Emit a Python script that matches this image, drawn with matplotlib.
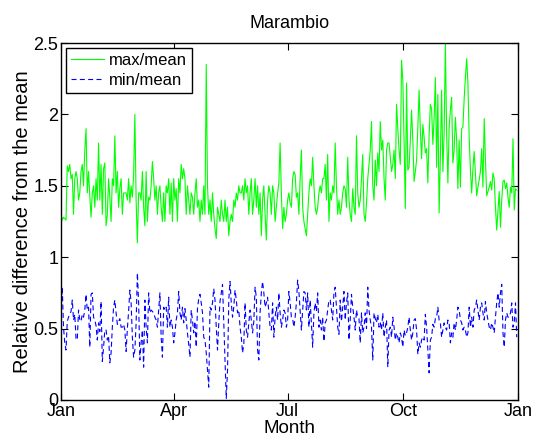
import numpy as np
import matplotlib
matplotlib.use("Agg")
import matplotlib.pyplot as plt

plt.rcParams['font.family'] = ['Liberation Sans', 'DejaVu Sans']

title = "Marambio"
xlabel = "Month"
ylabel = "Relative difference from the mean"
month_ticks = [0, 90, 181, 273, 365]
month_labels = ["Jan", "Apr", "Jul", "Oct", "Jan"]
y_ticks = [0, 0.5, 1, 1.5, 2, 2.5]
y_labels = ["0", "0.5", "1", "1.5", "2", "2.5"]

max_mean_q1 = [
    1.30, 1.26, 1.28, 1.27, 1.26, 1.64, 1.60, 1.65, 1.55, 1.58,
    1.30, 1.55, 1.60, 1.55, 1.40, 1.45, 1.60, 1.65, 1.50, 1.75,
    1.90, 1.45, 1.60, 1.43, 1.28, 1.45, 1.50, 1.35, 1.55, 1.40,
    1.80, 1.40, 1.65, 1.30, 1.62, 1.66, 1.22, 1.30, 1.55, 1.42,
    1.25, 1.55, 1.50, 1.85, 1.45, 1.60, 1.35, 1.48, 1.55, 1.30,
    1.45, 1.45, 1.45, 1.40, 1.55, 1.38, 1.50, 1.42, 1.58, 2.00,
    1.40, 1.10, 1.45, 1.45, 1.40, 1.60, 1.35, 1.22, 1.60, 1.25,
    1.42, 1.40, 1.50, 1.67, 1.55, 1.40, 1.50, 1.30, 1.45, 1.50,
    1.35, 1.25, 1.45, 1.25, 1.50, 1.45, 1.55, 1.30, 1.52, 1.25,
    1.55, 1.40, 1.48]
max_mean_q2 = [
    1.25, 1.55, 1.45, 1.65, 1.55, 1.62, 1.55, 1.30, 1.50, 1.40,
    1.30, 1.45, 1.42, 1.30, 1.45, 1.55, 1.35, 1.40, 1.25, 1.40,
    1.30, 1.50, 1.30, 2.35, 1.50, 1.30, 1.40, 1.25, 1.45, 1.30,
    1.20, 1.13, 1.35, 1.30, 1.25, 1.40, 1.30, 1.25, 1.40, 1.25,
    1.35, 1.15, 1.25, 1.30, 1.25, 1.40, 1.35, 1.45, 1.40, 1.50,
    1.45, 1.45, 1.50, 1.40, 1.55, 1.45, 1.50, 1.30, 1.45, 1.55,
    1.30, 1.40, 1.55, 1.35, 1.50, 1.30, 1.45, 1.15, 1.40, 1.50,
    1.30, 1.12, 1.40, 1.50, 1.45, 1.30, 1.50, 1.45, 1.25, 1.35,
    1.45, 1.52, 1.80, 1.45, 1.20, 1.35, 1.25, 1.30, 1.40, 1.45,
    1.38]
max_mean_q3 = [
    1.35, 1.55, 1.60, 1.58, 1.42, 1.45, 1.30, 1.55, 1.75, 1.35,
    1.25, 1.20, 1.15, 1.30, 1.45, 1.55, 1.50, 1.70, 1.50, 1.35,
    1.30, 1.35, 1.45, 1.50, 1.45, 1.55, 1.55, 1.65, 1.40, 1.72,
    1.25, 1.45, 1.40, 1.50, 1.45, 1.80, 1.50, 1.30, 1.40, 1.30,
    1.35, 1.45, 1.50, 1.48, 1.35, 1.70, 1.40, 1.30, 1.25, 1.48,
    1.35, 1.30, 1.85, 1.45, 1.35, 1.40, 1.55, 1.72, 1.30, 1.25,
    1.38, 1.55, 1.65, 1.75, 1.95, 1.50, 1.40, 1.68, 1.50, 1.73,
    1.60, 1.95, 1.75, 1.82, 1.55, 1.40, 1.75, 1.80, 1.80, 1.70,
    1.60, 1.65, 1.75, 1.55, 2.07, 1.90, 1.75, 1.65, 2.38, 2.24,
    1.82, 1.34]
max_mean_q4 = [
    2.22, 1.61, 1.63, 1.82, 2.03, 1.82, 1.53, 1.60, 1.68, 1.91,
    2.17, 1.89, 1.69, 1.93, 1.84, 1.73, 1.76, 1.52, 1.85, 2.07,
    2.04, 1.79, 1.97, 2.26, 1.63, 2.14, 1.31, 1.70, 2.17, 1.60,
    1.87, 2.50, 1.87, 1.52, 1.91, 2.03, 2.12, 1.66, 1.75, 1.98,
    1.82, 1.48, 1.82, 1.49, 1.90, 1.91, 2.11, 2.26, 2.39, 2.22,
    1.84, 1.61, 1.45, 1.62, 1.74, 1.59, 1.43, 1.49, 1.54, 1.60,
    1.76, 1.49, 1.97, 1.68, 1.43, 1.46, 1.49, 1.53, 1.47, 1.59,
    1.55, 1.35, 1.19, 1.32, 1.46, 1.21, 1.40, 1.53, 1.54, 1.48,
    1.52, 1.42, 1.35, 1.49, 1.45, 1.83, 1.33, 1.48, 1.47]

min_mean_q1 = [
    0.62, 0.79, 0.51, 0.40, 0.35, 0.55, 0.58, 0.60, 0.62, 0.70,
    0.56, 0.60, 0.43, 0.42, 0.63, 0.56, 0.55, 0.60, 0.58, 0.63,
    0.74, 0.63, 0.65, 0.37, 0.74, 0.75, 0.58, 0.56, 0.52, 0.42,
    0.54, 0.48, 0.69, 0.27, 0.37, 0.49, 0.49, 0.42, 0.45, 0.26,
    0.33, 0.51, 0.65, 0.70, 0.61, 0.53, 0.55, 0.57, 0.51, 0.51,
    0.53, 0.49, 0.34, 0.50, 0.62, 0.77, 0.68, 0.44, 0.30, 0.35,
    0.54, 0.89, 0.68, 0.28, 0.40, 0.49, 0.23, 0.70, 0.51, 0.40,
    0.75, 0.61, 0.63, 0.62, 0.61, 0.58, 0.56, 0.51, 0.63, 0.75,
    0.44, 0.30, 0.65, 0.63, 0.65, 0.51, 0.72, 0.51, 0.56, 0.51,
    0.40, 0.47, 0.56]
min_mean_q2 = [
    0.61, 0.76, 0.61, 0.56, 0.65, 0.54, 0.64, 0.56, 0.47, 0.39,
    0.30, 0.63, 0.56, 0.47, 0.55, 0.37, 0.64, 0.71, 0.74, 0.68,
    0.61, 0.44, 0.42, 0.33, 0.21, 0.09, 0.65, 0.63, 0.68, 0.78,
    0.70, 0.51, 0.35, 0.54, 0.69, 0.75, 0.81, 0.54, 0.28, 0.01,
    0.21, 0.70, 0.83, 0.68, 0.58, 0.65, 0.77, 0.70, 0.61, 0.63,
    0.51, 0.44, 0.33, 0.39, 0.68, 0.49, 0.44, 0.54, 0.63, 0.56,
    0.47, 0.55, 0.79, 0.72, 0.35, 0.28, 0.61, 0.75, 0.83, 0.75,
    0.65, 0.68, 0.72, 0.61, 0.51, 0.49, 0.68, 0.44, 0.58, 0.65,
    0.56, 0.75, 0.61, 0.51, 0.56, 0.63, 0.61, 0.51, 0.56, 0.76,
    0.68]
min_mean_q3 = [
    0.58, 0.57, 0.51, 0.58, 0.68, 0.84, 0.76, 0.63, 0.49, 0.63,
    0.76, 0.75, 0.63, 0.75, 0.51, 0.70, 0.54, 0.37, 0.61, 0.68,
    0.62, 0.75, 0.51, 0.56, 0.49, 0.58, 0.41, 0.54, 0.56, 0.63,
    0.70, 0.70, 0.63, 0.56, 0.75, 0.79, 0.65, 0.51, 0.46, 0.70,
    0.55, 0.65, 0.76, 0.56, 0.68, 0.75, 0.42, 0.56, 0.74, 0.65,
    0.58, 0.49, 0.63, 0.58, 0.57, 0.40, 0.61, 0.47, 0.51, 0.61,
    0.50, 0.79, 0.63, 0.56, 0.51, 0.28, 0.61, 0.57, 0.54, 0.60,
    0.51, 0.54, 0.49, 0.61, 0.44, 0.51, 0.56, 0.23, 0.49, 0.51,
    0.44, 0.58, 0.51, 0.42, 0.47, 0.44, 0.40, 0.47, 0.44, 0.37,
    0.49, 0.45]
min_mean_q4 = [
    0.47, 0.51, 0.58, 0.49, 0.42, 0.47, 0.56, 0.57, 0.49, 0.32,
    0.40, 0.37, 0.42, 0.44, 0.42, 0.60, 0.51, 0.35, 0.19, 0.42,
    0.44, 0.53, 0.51, 0.57, 0.58, 0.65, 0.56, 0.54, 0.44, 0.49,
    0.54, 0.51, 0.49, 0.56, 0.54, 0.40, 0.47, 0.44, 0.54, 0.49,
    0.56, 0.65, 0.63, 0.56, 0.54, 0.49, 0.51, 0.49, 0.44, 0.47,
    0.65, 0.51, 0.58, 0.51, 0.63, 0.65, 0.70, 0.63, 0.56, 0.65,
    0.68, 0.61, 0.56, 0.69, 0.61, 0.56, 0.51, 0.49, 0.54, 0.51,
    0.47, 0.58, 0.68, 0.75, 0.65, 0.75, 0.81, 0.47, 0.37, 0.56,
    0.61, 0.58, 0.58, 0.61, 0.68, 0.51, 0.54, 0.68, 0.44]

max_mean = np.array(max_mean_q1 + max_mean_q2 + max_mean_q3 + max_mean_q4)
min_mean = np.array(min_mean_q1 + min_mean_q2 + min_mean_q3 + min_mean_q4)
day_max = np.arange(len(max_mean))
day_min = np.arange(len(min_mean))

W, H = 537, 443
fig = plt.figure(figsize=(W / 100, H / 100), dpi=100)
ax = fig.add_axes([61 / W, (H - 400) / H, 457 / W, 357 / H])

ax.plot(day_max, max_mean, color=(0, 1, 0), lw=0.8, label="max/mean")
ax.plot(day_min, min_mean, color=(0, 0, 1), lw=0.8, ls=(0, (4.5, 3)), label="min/mean")

ax.set_xlim(0, 365)
ax.set_ylim(0, 2.5)
ax.set_xticks(month_ticks)
ax.set_xticklabels(month_labels)
ax.set_yticks(y_ticks)
ax.set_yticklabels(y_labels)
ax.tick_params(direction='in', top=True, right=True, length=5, width=0.8,
               labelsize=13, pad=2)
for s in ax.spines.values():
    s.set_linewidth(1.0)

ax.set_title(title, fontsize=13, pad=11)
ax.set_xlabel(xlabel, fontsize=13.5, labelpad=0)
ax.set_ylabel(ylabel, fontsize=14.5, labelpad=1)

leg = ax.legend(loc='upper left', fontsize=12, frameon=True, fancybox=False,
                edgecolor='black', framealpha=1, handlelength=2.0,
                borderpad=0.3, labelspacing=0.3, handletextpad=0.25,
                borderaxespad=0.3)
leg.get_frame().set_linewidth(1.0)

fig.savefig("out.png", dpi=100)
